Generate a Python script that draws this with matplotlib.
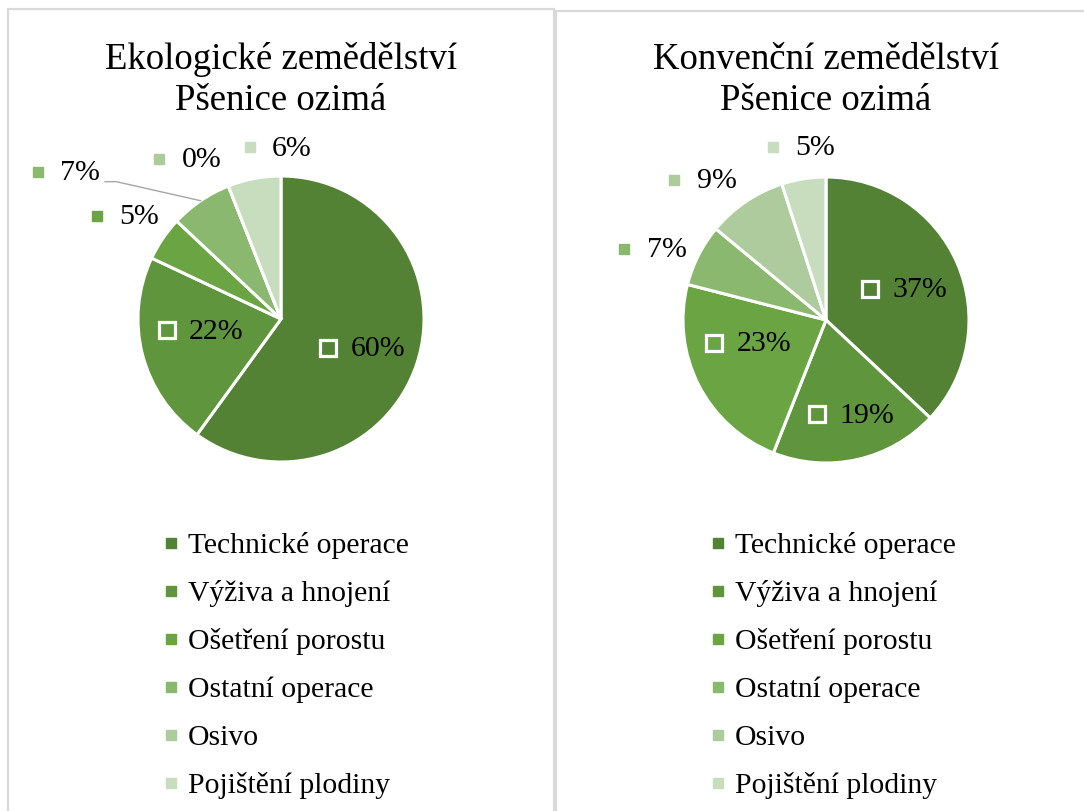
import matplotlib
matplotlib.use("Agg")
import matplotlib.pyplot as plt
import numpy as np
from matplotlib.patches import Rectangle
from matplotlib.lines import Line2D

plt.rcParams['font.family'] = ['Liberation Serif', 'DejaVu Serif']

# --- data ---
kategorie = ["Technické operace", "Výživa a hnojení", "Ošetření porostu",
             "Ostatní operace", "Osivo", "Pojištění plodiny"]
barvy = ["#548235", "#5f953d", "#6aa443", "#8bb86f", "#adcb9c", "#c8dcbe"]
eko = [60, 22, 5, 7, 0, 6]
konv = [37, 19, 23, 7, 9, 5]
titul_eko = "Ekologické zemědělství\nPšenice ozimá"
titul_konv = "Konvenční zemědělství\nPšenice ozimá"

# pozice popisků (znacka) v jednotkach polomeru kolace
pop_eko = [(0.33, -0.20), (-0.80, -0.08), (-1.29, 0.72), (-1.70, 1.03), (-0.85, 1.12), (-0.22, 1.20)]
pop_konv = [(0.31, 0.22), (-0.06, -0.66), (-0.78, -0.16), (-1.41, 0.50), (-1.06, 0.98), (-0.37, 1.21)]

W, H = 1084, 811
R = 143

fig = plt.figure(figsize=(W / 100, H / 100), dpi=100)

# ramecky panelu
fig.add_artist(Rectangle((8 / W, -0.05), (554 - 8) / W, 1.05 - 9 / H, transform=fig.transFigure,
                         fill=False, edgecolor="#d9d9d9", linewidth=1.6))
fig.add_artist(Rectangle((556 / W, -0.05), 0.6, 1.05 - 11 / H, transform=fig.transFigure,
                         fill=False, edgecolor="#d9d9d9", linewidth=1.6))


def kolac(cx, cy, hodnoty, popisky, titul, leg_x, vodici=None):
    ax = fig.add_axes([(cx - R) / W, (H - cy - R) / H, 2 * R / W, 2 * R / H])
    wedges, _ = ax.pie(hodnoty, colors=barvy, startangle=90, counterclock=False,
                       wedgeprops=dict(edgecolor="white", linewidth=2.2))
    ax.set_xlim(-1, 1)
    ax.set_ylim(-1, 1)
    ax.set_aspect("equal")
    ax.axis("off")

    for i, (v, (x, y)) in enumerate(zip(hodnoty, popisky)):
        if v >= 10:
            ax.plot(x, y, marker="s", ms=11, mfc=barvy[i], mec="white", mew=2.3,
                    ls="", clip_on=False, zorder=5)
        else:
            ax.plot(x, y, marker="s", ms=7, mfc=barvy[i], mec=barvy[i],
                    ls="", clip_on=False, zorder=5)
        ax.text(x + 0.155, y - 0.01, f"{v}%", ha="left", va="center", fontsize=21.5, zorder=6)

    if vodici is not None:
        w = wedges[vodici]
        uhel = np.deg2rad((w.theta1 + w.theta2) / 2)
        x, y = popisky[vodici]
        ax.plot([x + 0.47, x + 0.55, np.cos(uhel) * 1.0],
                [y - 0.07, y - 0.07, np.sin(uhel) * 1.0],
                color="#a6a6a6", lw=1.0, clip_on=False, zorder=4)

    fig.text(cx / W, 1 - 80 / H, titul, ha="center", va="center", fontsize=26.5, linespacing=1.24)

    handles = [Line2D([], [], marker="s", ls="", ms=7, mfc=c, mec=c) for c in barvy]
    fig.legend(handles, kategorie, loc="upper left", bbox_to_anchor=(leg_x / W, 1 - 532 / H),
               frameon=False, fontsize=21.3, handlelength=0.5, handletextpad=0.3,
               labelspacing=0.715, borderpad=0, borderaxespad=0)


kolac(281, 319, eko, pop_eko, titul_eko, 164, vodici=3)
kolac(826, 320, konv, pop_konv, titul_konv, 711)

fig.savefig("out.png", dpi=100, facecolor="white")
